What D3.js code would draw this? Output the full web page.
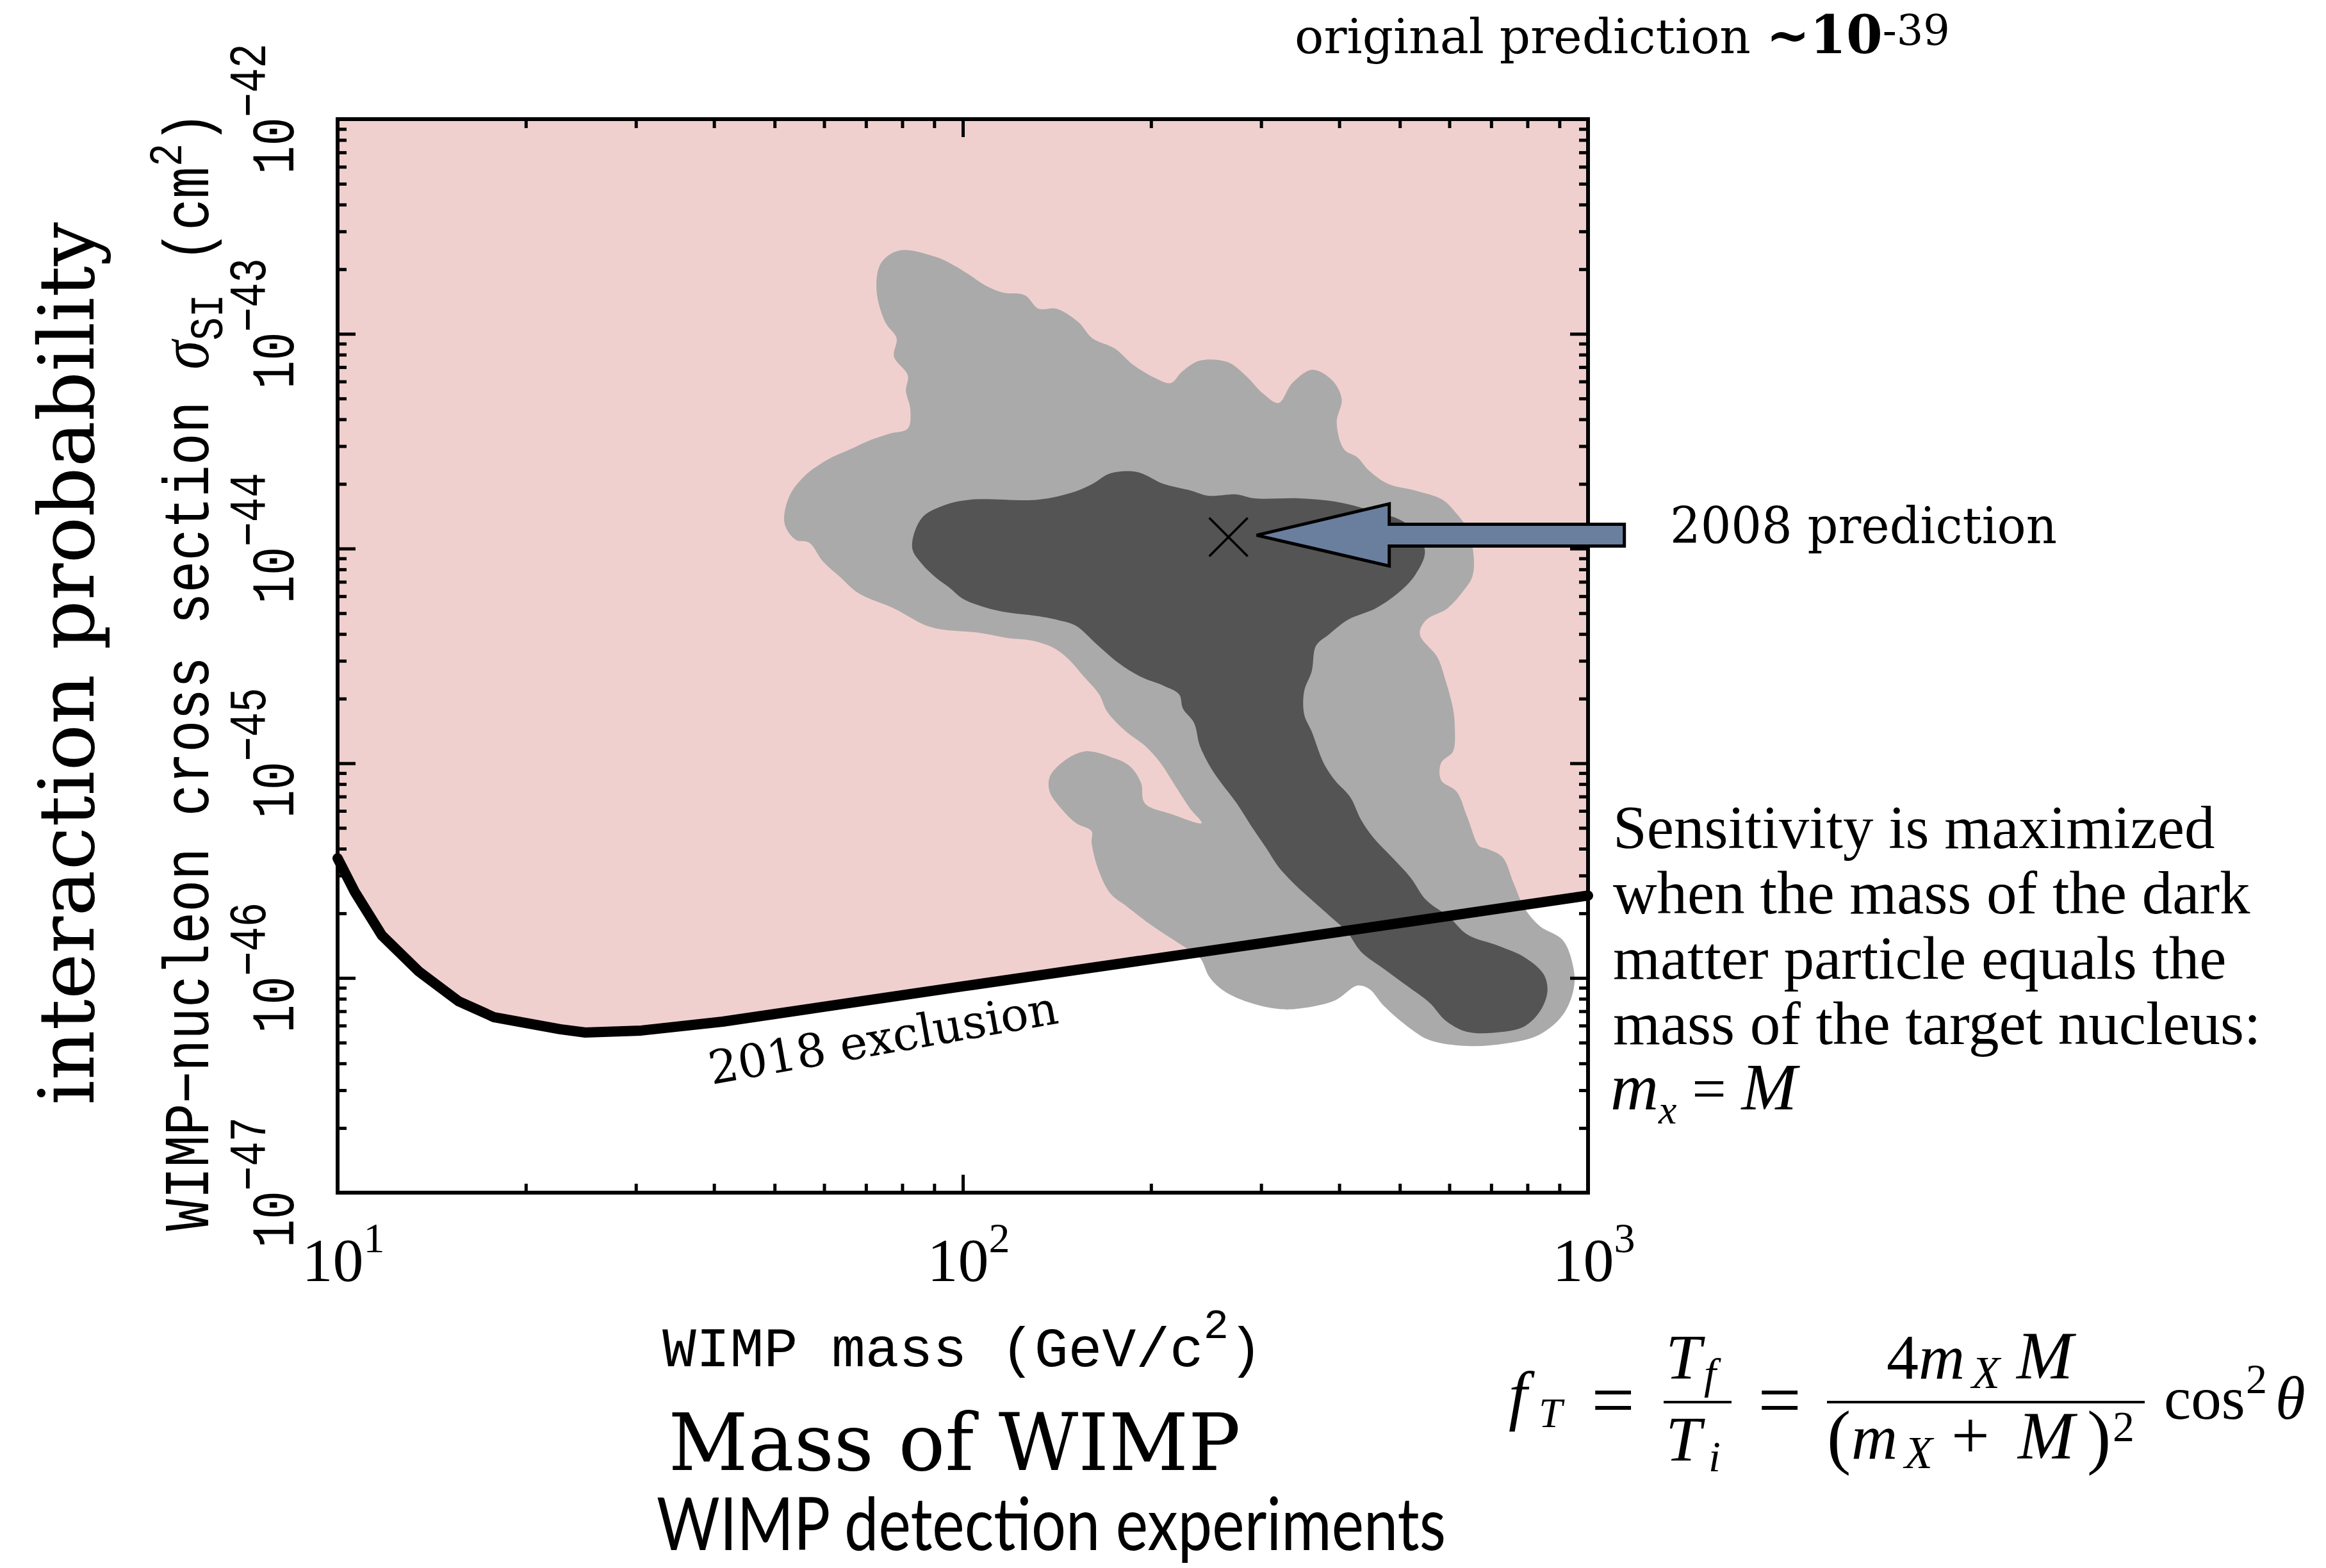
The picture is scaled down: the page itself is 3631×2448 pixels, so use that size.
<!DOCTYPE html>
<html>
<head>
<meta charset="utf-8">
<script src="https://cdn.jsdelivr.net/npm/d3@7"></script>
<style>
  body { margin: 0; background: #fff; }
  svg { display: block; }
</style>
</head>
<body>
<div id="chart"></div>
<script>
/** Data */

// axis decades
var massDecades = [10, 100, 1000];
var sigmaDecades = [1e-47, 1e-46, 1e-45, 1e-44, 1e-43, 1e-42];

// 2018 exclusion limit (mass in GeV/c^2, cross section in cm^2)
var exclusionMass  = [10, 10.66, 11.77, 13.5, 15.6, 17.8, 22.7, 24.9, 30.6, 41.3, 100, 300, 1000];
var exclusionSigma = [3.61e-46, 2.51e-46, 1.58e-46, 1.07e-46, 7.8e-47, 6.56e-47, 5.77e-47, 5.57e-47, 5.69e-47, 6.26e-47, 9.14e-47, 1.45e-46, 2.42e-46];

// 2008 best fit point
var predictionMass = 266;
var predictionSigma = 1.13e-44;

// allowed regions, outline as [log10(mass), log10(sigma)]
var outerRegion = [[1.898,-42.612],[1.956,-42.641],[1.985,-42.680],[2.009,-42.722],[2.035,-42.773],[2.064,-42.808],[2.099,-42.820],[2.121,-42.883],[2.150,-42.883],[2.185,-42.946],[2.207,-43.020],[2.243,-43.068],[2.272,-43.143],[2.307,-43.205],[2.333,-43.229],[2.350,-43.178],[2.379,-43.125],[2.423,-43.131],[2.452,-43.193],[2.481,-43.280],[2.505,-43.322],[2.527,-43.229],[2.559,-43.167],[2.591,-43.217],[2.606,-43.304],[2.598,-43.414],[2.610,-43.539],[2.631,-43.575],[2.650,-43.638],[2.681,-43.700],[2.724,-43.730],[2.767,-43.772],[2.789,-43.835],[2.807,-43.909],[2.817,-44.032],[2.815,-44.130],[2.801,-44.196],[2.775,-44.279],[2.741,-44.333],[2.731,-44.399],[2.759,-44.506],[2.772,-44.613],[2.784,-44.745],[2.787,-44.840],[2.784,-44.945],[2.765,-44.998],[2.765,-45.079],[2.790,-45.133],[2.807,-45.252],[2.826,-45.386],[2.838,-45.398],[2.863,-45.437],[2.881,-45.559],[2.899,-45.678],[2.923,-45.759],[2.960,-45.825],[2.977,-45.959],[2.977,-46.051],[2.960,-46.171],[2.923,-46.263],[2.869,-46.305],[2.807,-46.317],[2.747,-46.290],[2.716,-46.236],[2.674,-46.132],[2.650,-46.051],[2.631,-46.036],[2.595,-46.105],[2.534,-46.144],[2.504,-46.144],[2.461,-46.117],[2.419,-46.063],[2.395,-45.998],[2.379,-45.905],[2.352,-45.851],[2.316,-45.783],[2.291,-45.732],[2.261,-45.664],[2.237,-45.610],[2.218,-45.505],[2.206,-45.371],[2.206,-45.317],[2.181,-45.279],[2.158,-45.213],[2.139,-45.133],[2.139,-45.064],[2.158,-44.998],[2.194,-44.945],[2.237,-44.971],[2.267,-45.013],[2.285,-45.091],[2.291,-45.186],[2.334,-45.237],[2.382,-45.279],[2.364,-45.213],[2.340,-45.106],[2.316,-44.998],[2.291,-44.918],[2.261,-44.852],[2.231,-44.760],[2.218,-44.679],[2.194,-44.598],[2.170,-44.518],[2.146,-44.464],[2.109,-44.428],[2.073,-44.417],[2.028,-44.393],[1.949,-44.366],[1.890,-44.279],[1.833,-44.208],[1.804,-44.133],[1.776,-44.059],[1.754,-43.972],[1.733,-43.960],[1.715,-43.885],[1.722,-43.760],[1.747,-43.662],[1.783,-43.587],[1.819,-43.539],[1.847,-43.501],[1.883,-43.465],[1.912,-43.441],[1.916,-43.351],[1.909,-43.265],[1.912,-43.193],[1.890,-43.107],[1.894,-43.020],[1.876,-42.946],[1.862,-42.797],[1.869,-42.671]];

var innerRegion = [[1.919,-43.996],[1.934,-43.859],[1.970,-43.799],[2.013,-43.772],[2.121,-43.772],[2.178,-43.736],[2.207,-43.700],[2.236,-43.650],[2.279,-43.644],[2.322,-43.700],[2.365,-43.730],[2.393,-43.754],[2.438,-43.748],[2.466,-43.766],[2.538,-43.766],[2.595,-43.781],[2.653,-43.823],[2.710,-43.885],[2.739,-44.008],[2.724,-44.121],[2.696,-44.208],[2.660,-44.279],[2.617,-44.330],[2.586,-44.399],[2.565,-44.452],[2.558,-44.572],[2.546,-44.664],[2.546,-44.772],[2.558,-44.852],[2.577,-44.998],[2.595,-45.079],[2.620,-45.159],[2.637,-45.264],[2.656,-45.344],[2.686,-45.437],[2.716,-45.532],[2.741,-45.637],[2.778,-45.717],[2.807,-45.798],[2.857,-45.851],[2.899,-45.905],[2.929,-45.983],[2.935,-46.063],[2.923,-46.156],[2.899,-46.224],[2.863,-46.251],[2.807,-46.251],[2.772,-46.198],[2.747,-46.117],[2.710,-46.036],[2.674,-45.959],[2.637,-45.878],[2.614,-45.783],[2.589,-45.717],[2.558,-45.637],[2.529,-45.559],[2.504,-45.479],[2.486,-45.398],[2.461,-45.291],[2.438,-45.186],[2.413,-45.091],[2.395,-45.013],[2.379,-44.918],[2.370,-44.813],[2.352,-44.745],[2.346,-44.679],[2.322,-44.640],[2.285,-44.598],[2.249,-44.533],[2.212,-44.440],[2.181,-44.360],[2.152,-44.333],[2.121,-44.315],[2.064,-44.294],[2.028,-44.267],[1.999,-44.232],[1.978,-44.181],[1.956,-44.133],[1.934,-44.070]];

var sensitivityLines = ["Sensitivity is maximized", "when the mass of the dark", "matter particle equals the", "mass of the target nucleus:"];

/** Layout */

var margin = {top: 186, left: 527};
var width = 1952;
var height = 1676;

var PINK = "#f0d0ce";
var LIGHT = "#aaaaaa";
var DARK = "#545454";
var ARROW = "#6a7f9d";

var svg = d3.select("#chart")
  .append("svg")
    .attr("width", 3631)
    .attr("height", 2448);

svg.append("rect")
  .attr("width", 3631)
  .attr("height", 2448)
  .attr("fill", "#fff");

var x = d3.scaleLog()
  .domain([10, 1000])
  .range([margin.left, margin.left + width]);

var y = d3.scaleLog()
  .domain([1e-47, 1e-42])
  .range([margin.top + height, margin.top]);

svg.append("defs").append("clipPath")
    .attr("id", "plot-clip")
  .append("rect")
    .attr("x", margin.left)
    .attr("y", margin.top)
    .attr("width", width)
    .attr("height", height);

var exclusion = exclusionMass.map(function(m, i) { return {m: m, s: exclusionSigma[i]}; });

var plot = svg.append("g").attr("clip-path", "url(#plot-clip)");

// excluded region
plot.append("path")
  .datum(exclusion)
  .attr("fill", PINK)
  .attr("d", d3.area()
    .x(function(d) { return x(d.m); })
    .y0(y(1e-42))
    .y1(function(d) { return y(d.s); }));

var exclusionLine = d3.line()
  .x(function(d) { return x(d.m); })
  .y(function(d) { return y(d.s); });

svg.append("path")
  .datum(exclusion)
  .attr("fill", "none")
  .attr("stroke", "#000")
  .attr("stroke-width", 16)
  .attr("stroke-linejoin", "round")
  .attr("stroke-linecap", "round")
  .attr("d", exclusionLine);

// allowed regions
var region = d3.line()
  .x(function(d) { return x(Math.pow(10, d[0])); })
  .y(function(d) { return y(Math.pow(10, d[1])); })
  .curve(d3.curveCatmullRomClosed.alpha(0.5));

plot.append("path").datum(outerRegion).attr("fill", LIGHT).attr("d", region);
plot.append("path").datum(innerRegion).attr("fill", DARK).attr("d", region);

// the limit line stays visible (thinner) over the regions
svg.append("path")
  .datum(exclusion)
  .attr("fill", "none")
  .attr("stroke", "#000")
  .attr("stroke-width", 9)
  .attr("stroke-linejoin", "round")
  .attr("d", exclusionLine);

// AXES //

function isDecade(v) {
  var l = Math.log10(v);
  return Math.abs(l - Math.round(l)) < 1e-6;
}

var xMinor = x.ticks().filter(function(v) { return !isDecade(v); });
var yMinor = y.ticks().filter(function(v) { return !isDecade(v); });

function tickLayer(axis, tx, ty) {
  var g = svg.append("g")
    .attr("transform", "translate(" + tx + "," + ty + ")")
    .call(axis.tickFormat(""));
  g.select(".domain").remove();
  g.selectAll(".tick line").attr("stroke", "#000").attr("stroke-width", 5);
}

var bottom = margin.top + height;
var right = margin.left + width;

tickLayer(d3.axisBottom(x).tickValues(massDecades).tickSize(-28), 0, bottom);
tickLayer(d3.axisBottom(x).tickValues(xMinor).tickSize(-14), 0, bottom);
tickLayer(d3.axisTop(x).tickValues(massDecades).tickSize(-28), 0, margin.top);
tickLayer(d3.axisTop(x).tickValues(xMinor).tickSize(-14), 0, margin.top);
tickLayer(d3.axisLeft(y).tickValues(sigmaDecades).tickSize(-28), margin.left, 0);
tickLayer(d3.axisLeft(y).tickValues(yMinor).tickSize(-14), margin.left, 0);
tickLayer(d3.axisRight(y).tickValues(sigmaDecades).tickSize(-28), right, 0);
tickLayer(d3.axisRight(y).tickValues(yMinor).tickSize(-14), right, 0);

svg.append("rect")
  .attr("x", margin.left)
  .attr("y", margin.top)
  .attr("width", width)
  .attr("height", height)
  .attr("fill", "none")
  .attr("stroke", "#000")
  .attr("stroke-width", 6);

// x tick labels 10^n
massDecades.forEach(function(v) {
  var t = svg.append("text")
    .attr("x", x(v) + 9)
    .attr("y", 2000)
    .attr("text-anchor", "middle")
    .style("font-family", "Liberation Serif")
    .style("font-size", "96px");
  t.append("tspan").text("10");
  t.append("tspan").attr("dy", -45).style("font-size", "66px").text(Math.round(Math.log10(v)));
});

// y tick labels 10^-n, rotated
sigmaDecades.forEach(function(v) {
  var t = svg.append("g")
    .attr("transform", "translate(458," + (y(v) - 16) + ") rotate(-90) scale(1,1.28)")
    .append("text")
      .attr("text-anchor", "middle")
      .style("font-family", "Liberation Mono")
      .style("font-size", "74px");
  t.append("tspan").text("10");
  t.append("tspan").attr("dy", -34).style("font-size", "64px")
    .text("\u2212" + Math.abs(Math.round(Math.log10(v))));
});

// text helper: build at the origin, then stretch to the wanted length
function fitted(tx, ty, angle, target, stretch, anchor, build) {
  var g = svg.append("g");
  var t = g.append("text").attr("text-anchor", anchor);
  build(t);
  var k = target / t.node().getBBox().width;
  g.attr("transform", "translate(" + tx + "," + ty + ") rotate(" + angle + ") scale(" + k + "," + (k * stretch) + ")");
  return t;
}

// y axis title
fitted(325, 1048, -90, 1748, 1.2, "middle", function(t) {
  t.style("font-family", "Liberation Mono").style("font-size", "80px");
  t.append("tspan").text("WIMP\u2212nucleon cross section ");
  t.append("tspan").style("font-family", "Liberation Serif").style("font-style", "italic").style("font-size", "88px").text("\u03c3");
  t.append("tspan").attr("dy", 18).style("font-size", "58px").text("SI");
  t.append("tspan").attr("dy", -18).text(" (cm");
  t.append("tspan").attr("dy", -34).style("font-size", "58px").text("2");
  t.append("tspan").attr("dy", 34).text(")");
});

// x axis title
fitted(1034, 2133, 0, 937, 1, "start", function(t) {
  t.style("font-family", "Liberation Mono").style("font-size", "86px");
  t.append("tspan").text("WIMP mass (GeV/c");
  t.append("tspan").attr("dy", -43).style("font-size", "64px").text("2");
  t.append("tspan").attr("dy", 43).text(")");
});

// big slide captions
svg.append("g")
  .attr("transform", "translate(146,1036) rotate(-90)")
  .append("text")
    .attr("text-anchor", "middle")
    .attr("textLength", 1378)
    .attr("lengthAdjust", "spacingAndGlyphs")
    .style("font-family", "DejaVu Serif")
    .style("font-size", "120px")
    .text("interaction probability");

svg.append("text")
  .attr("x", 1490)
  .attr("y", 2295)
  .attr("text-anchor", "middle")
  .attr("textLength", 893)
  .attr("lengthAdjust", "spacingAndGlyphs")
  .style("font-family", "DejaVu Serif")
  .style("font-size", "124px")
  .text("Mass of WIMP");

svg.append("text")
  .attr("x", 1641)
  .attr("y", 2420)
  .attr("text-anchor", "middle")
  .attr("textLength", 1232)
  .attr("lengthAdjust", "spacingAndGlyphs")
  .style("font-family", "Lato")
  .style("font-size", "114px")
  .text("WIMP detection experiments");

fitted(2021, 83, 0, 1023, 1, "start", function(t) {
  t.style("font-family", "DejaVu Serif").style("font-size", "74px");
  t.append("tspan").text("original prediction ");
  t.append("tspan").style("font-weight", "bold").style("font-size", "80px").text("~10");
  t.append("tspan").attr("dy", -13).style("font-size", "64px").text("-39");
});

// 2008 prediction marker and arrow
var px = x(predictionMass);
var py = y(predictionSigma);

svg.append("path")
  .attr("d", "M" + (px - 30) + "," + (py - 30) + "L" + (px + 30) + "," + (py + 30) +
             "M" + (px + 30) + "," + (py - 30) + "L" + (px - 30) + "," + (py + 30))
  .attr("stroke", "#000")
  .attr("stroke-width", 3.5);

var arrowShape = [[0, 0], [207, -49], [207, -17], [574, -17], [574, 17], [207, 17], [207, 48]];
svg.append("path")
  .datum(arrowShape)
  .attr("transform", "translate(" + (px + 44) + "," + (py - 3) + ")")
  .attr("fill", ARROW)
  .attr("stroke", "#000")
  .attr("stroke-width", 5)
  .attr("d", d3.line().curve(d3.curveLinearClosed));

svg.append("text")
  .attr("x", 2607)
  .attr("y", 848)
  .attr("textLength", 604)
  .attr("lengthAdjust", "spacingAndGlyphs")
  .style("font-family", "DejaVu Serif")
  .style("font-size", "78px")
  .text("2008 prediction");

// exclusion label, along the curve
svg.append("g")
  .attr("transform", "translate(1111,1693) rotate(-10)")
  .append("text")
    .attr("textLength", 552)
    .attr("lengthAdjust", "spacingAndGlyphs")
    .style("font-family", "DejaVu Serif")
    .style("font-size", "72px")
    .text("2018 exclusion");

// side note
sensitivityLines.forEach(function(line, i) {
  svg.append("text")
    .attr("x", 2518)
    .attr("y", 1324 + i * 102)
    .style("font-family", "Liberation Serif")
    .style("font-size", "95px")
    .text(line);
});

var mx = svg.append("text")
  .attr("x", 2514)
  .attr("y", 1732)
  .style("font-family", "Liberation Serif")
  .style("font-size", "95px");
mx.append("tspan").style("font-style", "italic").style("font-size", "104px").text("m");
mx.append("tspan").attr("dy", 22).style("font-style", "italic").style("font-size", "64px").text("x");
mx.append("tspan").attr("dy", -22).text(" = ");
mx.append("tspan").style("font-style", "italic").style("font-size", "104px").text("M");

// kinematics formula, f_T = T_f/T_i = 4 m_X M / (m_X + M)^2 cos^2 theta
var formula = svg.append("g")
  .style("font-family", "Liberation Serif");

// [x, baseline, text, italic, size, anchor]
var formulaPieces = [
  [2355, 2213, "f", true, 104],
  [2402, 2228, "T", true, 66],
  [2518, 2226, "=", false, 120, "middle"],
  [2628, 2152, "T", true, 100, "middle"],
  [2660, 2168, "f", true, 68],
  [2628, 2280, "T", true, 100, "middle"],
  [2667, 2297, "i", true, 68],
  [2778, 2226, "=", false, 120, "middle"],
  [2945, 2152, "4", false, 100],
  [2995, 2152, "m", true, 100],
  [3078, 2167, "X", true, 72],
  [3148, 2152, "M", true, 106],
  [2852, 2280, "(", false, 112],
  [2890, 2277, "m", true, 100],
  [2973, 2292, "X", true, 72],
  [3046, 2277, "+", false, 106],
  [3150, 2277, "M", true, 106],
  [3258, 2280, ")", false, 112],
  [3298, 2250, "2", false, 68],
  [3378, 2215, "cos", false, 95],
  [3506, 2175, "2", false, 66],
  [3552, 2215, "\u03b8", true, 95]
];

formula.selectAll("text")
  .data(formulaPieces)
  .enter()
  .append("text")
    .attr("x", function(d) { return d[0]; })
    .attr("y", function(d) { return d[1]; })
    .attr("text-anchor", function(d) { return d[5] || "start"; })
    .style("font-style", function(d) { return d[3] ? "italic" : "normal"; })
    .style("font-size", function(d) { return d[4] + "px"; })
    .text(function(d) { return d[2]; });

formula.append("line").attr("x1", 2597).attr("x2", 2703).attr("y1", 2189).attr("y2", 2189).attr("stroke", "#000").attr("stroke-width", 4);
formula.append("line").attr("x1", 2852).attr("x2", 3348).attr("y1", 2189).attr("y2", 2189).attr("stroke", "#000").attr("stroke-width", 4);
</script>
</body>
</html>
